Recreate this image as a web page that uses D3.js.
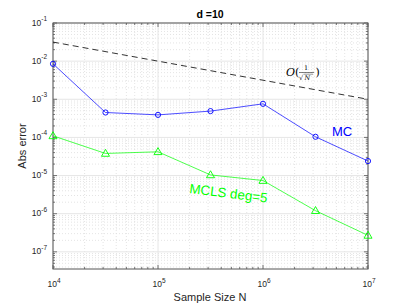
<!DOCTYPE html>
<html><head><meta charset="utf-8">
<script src="https://cdn.jsdelivr.net/npm/d3@7"></script>
<style>body{margin:0;background:#fff}svg{display:block;font-family:"Liberation Sans",Arial,sans-serif}</style>
</head><body><svg id="c" width="407" height="305"></svg>
<script>
const N = [1e4, 10**4.5, 1e5, 10**5.5, 1e6, 10**6.5, 1e7];
const mcErr = [0.0085, 4.5e-4, 3.9e-4, 4.9e-4, 7.6e-4, 1.04e-4, 2.4e-5];
const mclsErr = [1.1e-4, 3.8e-5, 4.2e-5, 1.04e-5, 7.4e-6, 1.2e-6, 2.7e-7];
const refN = [1e4, 1e7];
const refErr = [0.0316, 0.001];
const xTicks = [1e4, 1e5, 1e6, 1e7];
const xTickExp = ["4", "5", "6", "7"];
const yTicks = [1e-7, 1e-6, 1e-5, 1e-4, 1e-3, 1e-2, 1e-1];
const yTickExp = ["-7", "-6", "-5", "-4", "-3", "-2", "-1"];

const svg = d3.select("#c");
const L = 53, R = 368, T = 23, B = 269;
const x = d3.scaleLog().domain([1e4, 1e7]).range([L, R]);
const y = d3.scaleLog().domain([10**-7.45, 1e-1]).range([B, T]);

svg.append("rect").attr("x", L).attr("y", T).attr("width", R - L).attr("height", B - T).attr("fill", "#fff");

// minor grid
const xMinor = [], yMinor = [];
for (let e = 4; e < 7; e++) for (let k = 2; k <= 9; k++) xMinor.push(k * 10 ** e);
for (let e = -8; e < -1; e++) for (let k = 2; k <= 9; k++) { const v = k * 10 ** e; if (v > 10**-7.45 && v < 0.1) yMinor.push(v); }
const g = svg.append("g");
g.selectAll(".xm").data(xMinor).join("line").attr("x1", d => x(d)).attr("x2", d => x(d)).attr("y1", T).attr("y2", B)
  .attr("stroke", "#d8d8d8").attr("stroke-width", 0.7).attr("stroke-dasharray", "1,2");
g.selectAll(".ym").data(yMinor).join("line").attr("y1", d => y(d)).attr("y2", d => y(d)).attr("x1", L).attr("x2", R)
  .attr("stroke", "#d8d8d8").attr("stroke-width", 0.7).attr("stroke-dasharray", "1,2");
g.selectAll(".xg").data(xTicks).join("line").attr("x1", d => x(d)).attr("x2", d => x(d)).attr("y1", T).attr("y2", B)
  .attr("stroke", "#e6e6e6").attr("stroke-width", 1);
g.selectAll(".yg").data(yTicks).join("line").attr("y1", d => y(d)).attr("y2", d => y(d)).attr("x1", L).attr("x2", R)
  .attr("stroke", "#e6e6e6").attr("stroke-width", 1);

// ticks inside
const tk = svg.append("g").attr("stroke", "#555").attr("stroke-width", 0.8);
xTicks.forEach(d => { tk.append("line").attr("x1", x(d)).attr("x2", x(d)).attr("y1", B).attr("y2", B - 4);
  tk.append("line").attr("x1", x(d)).attr("x2", x(d)).attr("y1", T).attr("y2", T + 4); });
xMinor.forEach(d => { tk.append("line").attr("x1", x(d)).attr("x2", x(d)).attr("y1", B).attr("y2", B - 2);
  tk.append("line").attr("x1", x(d)).attr("x2", x(d)).attr("y1", T).attr("y2", T + 2); });
yTicks.forEach(d => { tk.append("line").attr("y1", y(d)).attr("y2", y(d)).attr("x1", L).attr("x2", L + 4);
  tk.append("line").attr("y1", y(d)).attr("y2", y(d)).attr("x1", R).attr("x2", R - 4); });
yMinor.forEach(d => { tk.append("line").attr("y1", y(d)).attr("y2", y(d)).attr("x1", L).attr("x2", L + 2);
  tk.append("line").attr("y1", y(d)).attr("y2", y(d)).attr("x1", R).attr("x2", R - 2); });

svg.append("rect").attr("x", L).attr("y", T).attr("width", R - L).attr("height", B - T)
  .attr("fill", "none").attr("stroke", "#555").attr("stroke-width", 1);

// tick labels
xTicks.forEach((d, i) => {
  const t = svg.append("text").attr("x", x(d) + 1).attr("y", 287).attr("text-anchor", "middle")
    .attr("font-size", 8.5).attr("fill", "#262626");
  t.append("tspan").text("10");
  t.append("tspan").attr("dy", -4.5).attr("font-size", 6.5).text(xTickExp[i]);
});
yTicks.forEach((d, i) => {
  const t = svg.append("text").attr("x", 47).attr("y", y(d) + 2.5).attr("text-anchor", "end")
    .attr("font-size", 8.5).attr("fill", "#262626");
  t.append("tspan").text("10");
  t.append("tspan").attr("dy", -4.5).attr("font-size", 6.5).text(yTickExp[i]);
});

// reference line
const line = d3.line().x(d => x(d[0])).y(d => y(d[1]));
svg.append("path").datum(refN.map((n, i) => [n, refErr[i]])).attr("d", line)
  .attr("fill", "none").attr("stroke", "#000").attr("stroke-width", 0.8).attr("stroke-dasharray", "6,4");

// MC
const mcData = N.map((n, i) => [n, mcErr[i]]);
svg.append("path").datum(mcData).attr("d", line).attr("fill", "none").attr("stroke", "#0000ff").attr("stroke-width", 0.7);
svg.selectAll(".mcp").data(mcData).join("circle").attr("cx", d => x(d[0])).attr("cy", d => y(d[1])).attr("r", 2.6)
  .attr("fill", "none").attr("stroke", "#0000ff").attr("stroke-width", 0.9);

// MCLS
const lsData = N.map((n, i) => [n, mclsErr[i]]);
svg.append("path").datum(lsData).attr("d", line).attr("fill", "none").attr("stroke", "#00ff00").attr("stroke-width", 0.7);
const tri = d3.symbol().type(d3.symbolTriangle).size(28);
svg.selectAll(".lsp").data(lsData).join("path").attr("d", tri)
  .attr("transform", d => `translate(${x(d[0])},${y(d[1]) + 0.5})`)
  .attr("fill", "none").attr("stroke", "#00ff00").attr("stroke-width", 0.9);

// labels
svg.append("text").attr("x", 210).attr("y", 18).attr("text-anchor", "middle").attr("font-size", 10.5)
  .attr("font-weight", "bold").attr("fill", "#000").text("d =10");
svg.append("text").attr("x", 210).attr("y", 301).attr("text-anchor", "middle").attr("font-size", 11)
  .attr("fill", "#262626").text("Sample Size N");
svg.append("text").attr("transform", "translate(26,146) rotate(-90)").attr("text-anchor", "middle").attr("font-size", 11)
  .attr("fill", "#262626").text("Abs error");
svg.append("text").attr("x", 332).attr("y", 136).attr("font-size", 13).attr("fill", "#0000ff").text("MC");
svg.append("text").attr("transform", "translate(189,193) rotate(7)").attr("font-size", 13.4).attr("fill", "#00ff00").text("MCLS deg=5");

// O(1/sqrt(N)) label
const o = svg.append("g").attr("font-family", "'DejaVu Serif','Liberation Serif',serif").attr("fill", "#000");
o.append("text").attr("x", 286).attr("y", 76).attr("font-size", 11).attr("font-style", "italic").text("O");
o.append("text").attr("x", 295).attr("y", 76).attr("font-size", 11).text("(");
o.append("text").attr("x", 306).attr("y", 70).attr("font-size", 6.5).attr("text-anchor", "middle").text("1");
o.append("line").attr("x1", 299).attr("x2", 314).attr("y1", 72.5).attr("y2", 72.5).attr("stroke", "#000").attr("stroke-width", 0.5);
o.append("text").attr("x", 299).attr("y", 79.5).attr("font-size", 6.5).text("√");
o.append("line").attr("x1", 303.5).attr("x2", 313).attr("y1", 74.2).attr("y2", 74.2).attr("stroke", "#000").attr("stroke-width", 0.4);
o.append("text").attr("x", 304.5).attr("y", 80).attr("font-size", 6.5).attr("font-style", "italic").text("N");
o.append("text").attr("x", 315.5).attr("y", 76).attr("font-size", 11).text(")");
</script></body></html>
